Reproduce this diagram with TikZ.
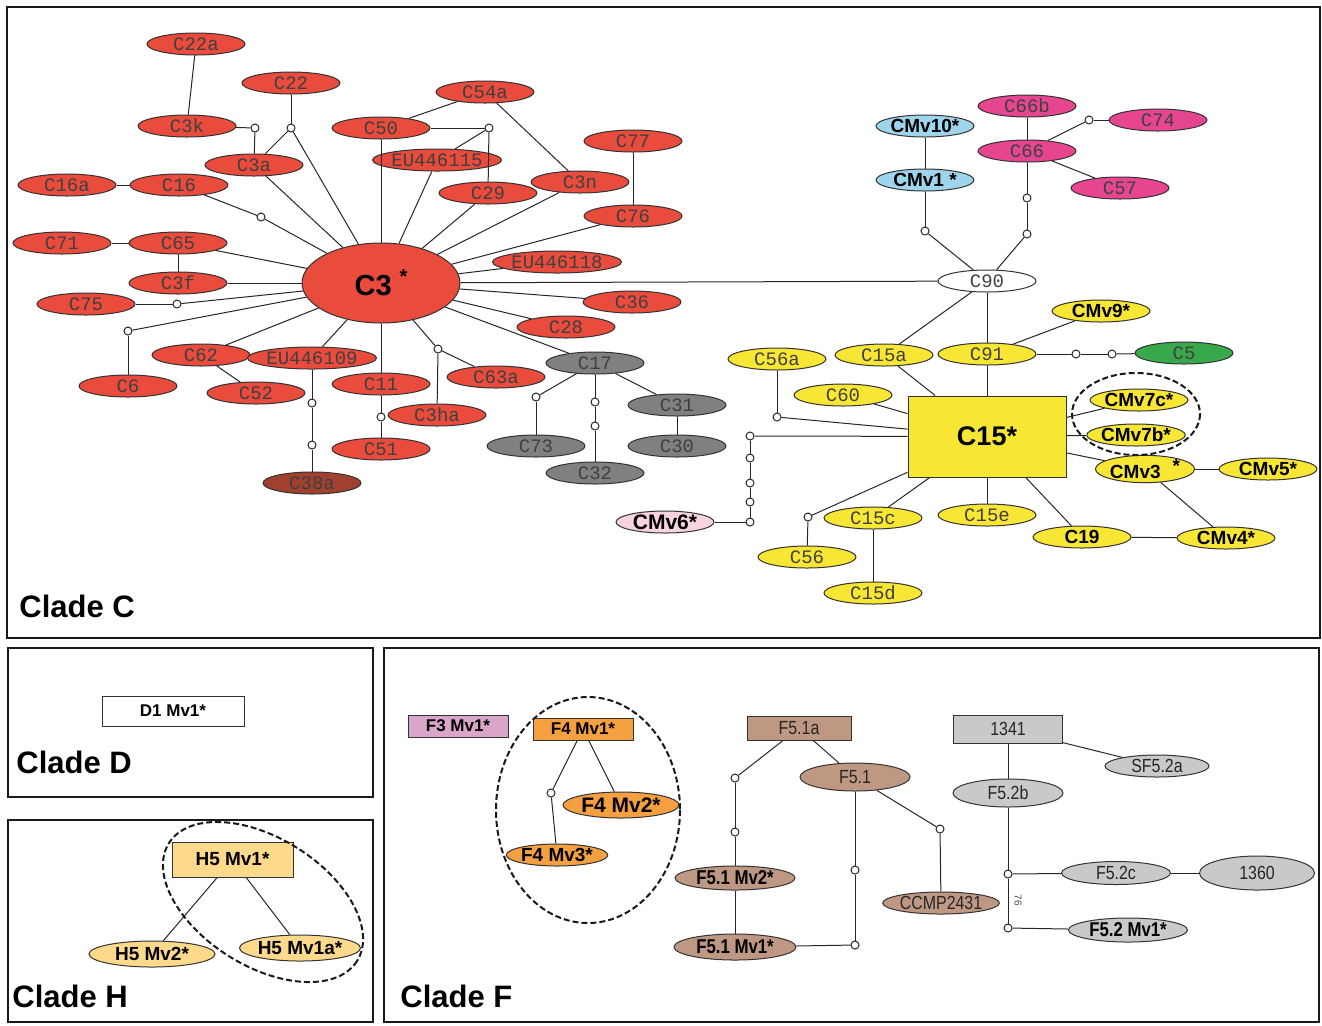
\documentclass[tikz,border=0pt]{standalone}
\usepackage{fontspec}
\setsansfont{Liberation Sans}
\setmonofont{Liberation Mono}
\newfontfamily\narrowsans[FakeStretch=0.84]{Liberation Sans}
\usetikzlibrary{shapes.geometric}

\definecolor{redC}{HTML}{E94B3C}
\definecolor{darkredC}{HTML}{A2402F}
\definecolor{grayC}{HTML}{808080}
\definecolor{blueC}{HTML}{9FD5EC}
\definecolor{pinkC}{HTML}{E6468F}
\definecolor{yellowC}{HTML}{F8E635}
\definecolor{greenC}{HTML}{38A94A}
\definecolor{paleC}{HTML}{F8D3E2}
\definecolor{mauveF}{HTML}{D9A6CA}
\definecolor{orangeF}{HTML}{F4A041}
\definecolor{brownF}{HTML}{BF9883}
\definecolor{grayF}{HTML}{C9C9C9}
\definecolor{sandH}{HTML}{FDDA8B}

\begin{document}
\begin{tikzpicture}[x=0.5pt,y=-0.5pt]
\tikzset{
  hap/.style={ellipse,draw=black!80,line width=0.5pt,inner sep=0pt,minimum width=49pt,minimum height=11pt,text=black!75,font=\ttfamily\fontsize{9.5}{10}\selectfont},
  mvhap/.style={hap,text=black,font=\sffamily\bfseries\fontsize{9.5}{10}\selectfont},
  fhap/.style={ellipse,draw=black!80,line width=0.5pt,inner sep=0pt,text=black!85,font=\narrowsans\fontsize{9.5}{10}\selectfont},
  fmv/.style={fhap,text=black,font=\narrowsans\bfseries\fontsize{10}{10}\selectfont},
  hbox/.style={rectangle,draw=black!80,line width=0.5pt,inner sep=0pt},
  joint/.style={circle,draw=black!85,fill=white,line width=0.5pt,inner sep=0pt,minimum size=4pt},
  link/.style={draw=black!85,line width=0.5pt},
  panel/.style={draw=black!90,line width=1pt},
  group/.style={draw=black!90,line width=1pt,dash pattern=on 3pt off 1.5pt},
  cladelabel/.style={anchor=west,inner sep=0pt,font=\sffamily\bfseries\fontsize{15.5}{16}\selectfont}
}
\useasboundingbox (0,0) rectangle (1322,1025);

% panels
\draw[panel] (7,7) rectangle (1320,638);
\draw[panel] (8,648) rectangle (373,797);
\draw[panel] (8,820) rectangle (373,1022);
\draw[panel] (384,648) rectangle (1319,1022);
\node[cladelabel] (l_c) at (19,606) {Clade C};
\node[cladelabel] (l_d) at (16,762) {Clade D};
\node[cladelabel] (l_h) at (12,996) {Clade H};
\node[cladelabel] (l_f) at (400,996) {Clade F};

% clade C, C3 group
\node[hap,fill=redC] (n_c3) at (381,283) [minimum width=79pt,minimum height=40pt,text=black,font=\sffamily\bfseries\fontsize{14.5}{15}\selectfont] {C3\hspace{4pt}\raisebox{6pt}{\fontsize{10}{10}\selectfont *}};
\node[hap,fill=redC] (n_c22a) at (196,44) {C22a};
\node[hap,fill=redC] (n_c22) at (291,83) {C22};
\node[hap,fill=redC] (n_c3k) at (187,126) {C3k};
\node[hap,fill=redC] (n_c3a) at (254,165) {C3a};
\node[hap,fill=redC] (n_c16a) at (67,185) {C16a};
\node[hap,fill=redC] (n_c16) at (179,185) {C16};
\node[hap,fill=redC] (n_c50) at (381,128) {C50};
\node[hap,fill=redC] (n_c54a) at (485,92) {C54a};
\node[hap,fill=redC] (n_eu115) at (437,160) {EU446115};
\node[hap,fill=redC] (n_c29) at (488,193) {C29};
\node[hap,fill=redC] (n_c3n) at (580,182) {C3n};
\node[hap,fill=redC] (n_c77) at (633,141) {C77};
\node[hap,fill=redC] (n_c76) at (633,216) {C76};
\node[hap,fill=redC] (n_eu118) at (557,262) {EU446118};
\node[hap,fill=redC] (n_c71) at (62,243) {C71};
\node[hap,fill=redC] (n_c65) at (178,243) {C65};
\node[hap,fill=redC] (n_c3f) at (178,283) {C3f};
\node[hap,fill=redC] (n_c75) at (86,304) {C75};
\node[hap,fill=redC] (n_c36) at (632,302) {C36};
\node[hap,fill=redC] (n_c28) at (566,327) {C28};
\node[hap,fill=redC] (n_c62) at (201,355) {C62};
\node[hap,fill=redC] (n_c6) at (128,386) {C6};
\node[hap,fill=redC] (n_c52) at (256,393) {C52};
\node[hap,fill=redC] (n_eu109) at (312,358) {EU446109};
\node[hap,fill=redC] (n_c11) at (381,384) {C11};
\node[hap,fill=redC] (n_c51) at (381,449) {C51};
\node[hap,fill=redC] (n_c3ha) at (437,415) {C3ha};
\node[hap,fill=redC] (n_c63a) at (496,377) {C63a};
\node[hap,fill=darkredC] (n_c38a) at (312,483) {C38a};
\node[hap,fill=grayC] (n_c17) at (595,363) {C17};
\node[hap,fill=grayC] (n_c73) at (536,446) {C73};
\node[hap,fill=grayC] (n_c32) at (595,473) {C32};
\node[hap,fill=grayC] (n_c31) at (677,405) {C31};
\node[hap,fill=grayC] (n_c30) at (677,446) {C30};
\node[joint] (n_j1) at (255,128) {};
\node[joint] (n_j2) at (291,128) {};
\node[joint] (n_j3) at (261,217) {};
\node[joint] (n_j4) at (489,128) {};
\node[joint] (n_j5) at (177,304) {};
\node[joint] (n_j6) at (128,331) {};
\node[joint] (n_j7) at (312,403) {};
\node[joint] (n_j8) at (312,445) {};
\node[joint] (n_j9) at (381,417) {};
\node[joint] (n_j10) at (438,349) {};
\node[joint] (n_j11) at (536,397) {};
\node[joint] (n_j12) at (595,402) {};
\node[joint] (n_j13) at (595,426) {};

% clade C, C15 group
\node[hap,fill=white] (n_c90) at (987,281) {C90};
\node[mvhap,fill=blueC] (n_cmv10) at (925,126) {CMv10*};
\node[mvhap,fill=blueC] (n_cmv1) at (925,180) {CMv1 *};
\node[hap,fill=pinkC] (n_c66b) at (1027,106) {C66b};
\node[hap,fill=pinkC] (n_c66) at (1027,151) {C66};
\node[hap,fill=pinkC] (n_c74) at (1158,120) {C74};
\node[hap,fill=pinkC] (n_c57) at (1120,188) {C57};
\node[mvhap,fill=yellowC] (n_cmv9) at (1101,311) {CMv9*};
\node[hap,fill=yellowC] (n_c15a) at (884,355) {C15a};
\node[hap,fill=yellowC] (n_c91) at (987,354) {C91};
\node[hap,fill=greenC] (n_c5) at (1184,353) {C5};
\node[hap,fill=yellowC] (n_c56a) at (777,359) {C56a};
\node[hap,fill=yellowC] (n_c60) at (843,395) {C60};
\node[hbox,fill=yellowC,minimum width=79pt,minimum height=40.5pt,font=\sffamily\bfseries\fontsize{13.5}{14}\selectfont] (n_c15) at (987,436.5) {C15*};
\node[mvhap,fill=yellowC] (n_cmv7c) at (1139,400) {CMv7c*};
\node[mvhap,fill=yellowC] (n_cmv7b) at (1136,435) {CMv7b*};
\node[mvhap,fill=yellowC] (n_cmv3) at (1145,469) {CMv3\hspace{6pt}\raisebox{3pt}{*}};
\node[mvhap,fill=yellowC] (n_cmv5) at (1268,469) {CMv5*};
\node[mvhap,fill=yellowC] (n_c19) at (1082,537) {C19};
\node[mvhap,fill=yellowC] (n_cmv4) at (1226,538) {CMv4*};
\node[hap,fill=yellowC] (n_c15e) at (987,515) {C15e};
\node[hap,fill=yellowC] (n_c15c) at (873,518) {C15c};
\node[hap,fill=yellowC] (n_c15d) at (873,593) {C15d};
\node[hap,fill=yellowC] (n_c56) at (807,557) {C56};
\node[mvhap,fill=paleC,font=\sffamily\bfseries\fontsize{10.5}{11}\selectfont] (n_cmv6) at (665,522) {CMv6*};
\node[joint] (n_j14) at (925,231) {};
\node[joint] (n_j15) at (1027,234) {};
\node[joint] (n_j16) at (1027,198) {};
\node[joint] (n_j17) at (1089,120) {};
\node[joint] (n_j18) at (1076,354) {};
\node[joint] (n_j19) at (1112,354) {};
\node[joint] (n_j20) at (777,417) {};
\node[joint] (n_j21) at (750,436) {};
\node[joint] (n_j22) at (750,458) {};
\node[joint] (n_j23) at (750,483) {};
\node[joint] (n_j24) at (750,502) {};
\node[joint] (n_j25) at (750,522) {};
\node[joint] (n_j26) at (808,517) {};
\draw[group] (1136,414) ellipse [x radius=64,y radius=41];

\draw[link] (n_c22a) -- (n_c3k);
\draw[link] (n_c3k) -- (n_j1);
\draw[link] (n_j1) -- (n_c3a);
\draw[link] (n_c22) -- (n_j2);
\draw[link] (n_j2) -- (n_c3a);
\draw[link] (n_j2) -- (n_c3);
\draw[link] (n_c16a) -- (n_c16);
\draw[link] (n_c16) -- (n_j3);
\draw[link] (n_j3) -- (n_c3);
\draw[link] (n_c3a) -- (n_c3);
\draw[link] (n_c50) -- (n_c3);
\draw[link] (n_c50) -- (n_c54a);
\draw[link] (n_c50) -- (n_j4);
\draw[link] (n_j4) -- (n_eu115);
\draw[link] (n_j4) -- (n_c29);
\draw[link] (n_eu115) -- (n_c3);
\draw[link] (n_c29) -- (n_c3);
\draw[link] (n_c54a) -- (n_c3n);
\draw[link] (n_c3n) -- (n_c3);
\draw[link] (n_c77) -- (n_c76);
\draw[link] (n_c76) -- (n_c3);
\draw[link] (n_eu118) -- (n_c3);
\draw[link] (n_c71) -- (n_c65);
\draw[link] (n_c65) -- (n_c3f);
\draw[link] (n_c65) -- (n_c3);
\draw[link] (n_c3f) -- (n_c3);
\draw[link] (n_c75) -- (n_j5);
\draw[link] (n_j5) -- (n_c3);
\draw[link] (n_c6) -- (n_j6);
\draw[link] (n_j6) -- (n_c3);
\draw[link] (n_c62) -- (n_c3);
\draw[link] (n_c62) -- (n_c52);
\draw[link] (n_eu109) -- (n_c3);
\draw[link] (n_eu109) -- (n_j7);
\draw[link] (n_j7) -- (n_j8);
\draw[link] (n_j8) -- (n_c38a);
\draw[link] (n_c11) -- (n_c3);
\draw[link] (n_c11) -- (n_j9);
\draw[link] (n_j9) -- (n_c51);
\draw[link] (n_c3) -- (n_j10);
\draw[link] (n_j10) -- (n_c3ha);
\draw[link] (n_j10) -- (n_c63a);
\draw[link] (n_c3) -- (n_c36);
\draw[link] (n_c3) -- (n_c28);
\draw[link] (n_c3) -- (n_c17);
\draw[link] (n_c17) -- (n_j11);
\draw[link] (n_j11) -- (n_c73);
\draw[link] (n_c17) -- (n_j12);
\draw[link] (n_j12) -- (n_j13);
\draw[link] (n_j13) -- (n_c32);
\draw[link] (n_c17) -- (n_c31);
\draw[link] (n_c31) -- (n_c30);
\draw[link] (n_c3) -- (n_c90);
\draw[link] (n_c90) -- (n_j14);
\draw[link] (n_j14) -- (n_cmv1);
\draw[link] (n_cmv1) -- (n_cmv10);
\draw[link] (n_c90) -- (n_j15);
\draw[link] (n_j15) -- (n_j16);
\draw[link] (n_j16) -- (n_c66);
\draw[link] (n_c66) -- (n_c66b);
\draw[link] (n_c66) -- (n_j17);
\draw[link] (n_j17) -- (n_c74);
\draw[link] (n_c66) -- (n_c57);
\draw[link] (n_c90) -- (n_c15a);
\draw[link] (n_c90) -- (n_c91);
\draw[link] (n_c91) -- (n_cmv9);
\draw[link] (n_c91) -- (n_j18);
\draw[link] (n_j18) -- (n_j19);
\draw[link] (n_j19) -- (n_c5);
\draw[link] (n_c15a) -- (n_c15);
\draw[link] (n_c91) -- (n_c15);
\draw[link] (n_c60) -- (n_c15);
\draw[link] (n_c56a) -- (n_j20);
\draw[link] (n_j20) -- (n_c15);
\draw[link] (n_c15) -- (n_j21);
\draw[link] (n_j21) -- (n_j22);
\draw[link] (n_j22) -- (n_j23);
\draw[link] (n_j23) -- (n_j24);
\draw[link] (n_j24) -- (n_j25);
\draw[link] (n_j25) -- (n_cmv6);
\draw[link] (n_c15) -- (n_j26);
\draw[link] (n_j26) -- (n_c56);
\draw[link] (n_c15) -- (n_c15c);
\draw[link] (n_c15c) -- (n_c15d);
\draw[link] (n_c15) -- (n_c15e);
\draw[link] (n_c15) -- (n_c19);
\draw[link] (n_c19) -- (n_cmv4);
\draw[link] (n_c15) -- (n_cmv7c);
\draw[link] (n_c15) -- (n_cmv7b);
\draw[link] (n_c15) -- (n_cmv3);
\draw[link] (n_cmv3) -- (n_cmv5);
\draw[link] (n_cmv3) -- (n_cmv4);

% clade D
\node[hbox,fill=white,minimum width=71pt,minimum height=15pt,font=\sffamily\bfseries\fontsize{8.5}{9}\selectfont] (n_d1mv1) at (173,711) {D1 Mv1*};

% clade H
\node[hbox,fill=sandH,minimum width=60.5pt,minimum height=17.5pt,font=\sffamily\bfseries\fontsize{9.5}{10}\selectfont] (n_h5mv1) at (232.5,859.5) {H5 Mv1*};
\node[fmv,fill=sandH,minimum width=63pt,minimum height=13pt,font=\sffamily\bfseries\fontsize{9.5}{10}\selectfont] (n_h5mv2) at (152,954) {H5 Mv2*};
\node[fmv,fill=sandH,minimum width=60.5pt,minimum height=13pt,font=\sffamily\bfseries\fontsize{9.5}{10}\selectfont] (n_h5mv1a) at (300,948) {H5 Mv1a*};
\draw[link] (n_h5mv1) -- (n_h5mv2);
\draw[link] (n_h5mv1) -- (n_h5mv1a);
\draw[group] (263,902) ellipse [x radius=111,y radius=64,rotate=-32];

% clade F
\node[hbox,fill=mauveF,minimum width=50pt,minimum height=11pt,font=\sffamily\bfseries\fontsize{8.5}{9}\selectfont] (n_f3mv1) at (458,726) {F3 Mv1*};
\node[hbox,fill=orangeF,minimum width=50pt,minimum height=11pt,font=\sffamily\bfseries\fontsize{8.5}{9}\selectfont] (n_f4mv1) at (583,729) {F4 Mv1*};
\node[fmv,fill=orangeF,minimum width=58pt,minimum height=13pt,font=\sffamily\bfseries\fontsize{10.5}{11}\selectfont] (n_f4mv2) at (621,805) {F4 Mv2*};
\node[fmv,fill=orangeF,minimum width=50pt,minimum height=11pt,font=\sffamily\bfseries\fontsize{9.5}{10}\selectfont] (n_f4mv3) at (557,855) {F4 Mv3*};
\node[joint] (n_j27) at (551,793) {};
\draw[group] (588,810) ellipse [x radius=92,y radius=113];
\node[hbox,fill=brownF,minimum width=52pt,minimum height=12pt,text=black!85,font=\narrowsans\fontsize{9.5}{10}\selectfont] (n_f51a) at (799,728) {F5.1a};
\node[fhap,fill=brownF,minimum width=55pt,minimum height=14pt] (n_f51) at (855,777) {F5.1};
\node[fmv,fill=brownF,minimum width=60pt,minimum height=12pt] (n_f51mv2) at (735,878) {F5.1 Mv2*};
\node[fmv,fill=brownF,minimum width=61pt,minimum height=13pt] (n_f51mv1) at (735,947) {F5.1 Mv1*};
\node[fhap,fill=brownF,minimum width=52pt,minimum height=11pt] (n_ccmp) at (941,903) {CCMP2431};
\node[joint] (n_j28) at (735,778) {};
\node[joint] (n_j29) at (735,832) {};
\node[joint] (n_j30) at (855,945) {};
\node[joint] (n_j31) at (855,870) {};
\node[joint] (n_j32) at (940,829) {};
\node[hbox,fill=grayF,minimum width=54.5pt,minimum height=14pt,text=black!85,font=\narrowsans\fontsize{9.5}{10}\selectfont] (n_1341) at (1008,729) {1341};
\node[fhap,fill=grayF,minimum width=52pt,minimum height=11pt] (n_sf52a) at (1157,766) {SF5.2a};
\node[fhap,fill=grayF,minimum width=55pt,minimum height=14pt] (n_f52b) at (1008,793) {F5.2b};
\node[fhap,fill=grayF,minimum width=54.5pt,minimum height=11.5pt] (n_f52c) at (1116,873) {F5.2c};
\node[fhap,fill=grayF,minimum width=57.5pt,minimum height=17pt] (n_1360) at (1257,873) {1360};
\node[fmv,fill=grayF,minimum width=59.5pt,minimum height=12pt] (n_f52mv1) at (1128,930) {F5.2 Mv1*};
\node[joint] (n_j33) at (1008,874) {};
\node[joint] (n_j34) at (1008,928) {};
\node[rotate=-90,text=black!70,inner sep=0pt,font=\sffamily\fontsize{5}{5}\selectfont] (l_76) at (1018,900) {76};

\draw[link] (n_f4mv1) -- (n_j27);
\draw[link] (n_j27) -- (n_f4mv3);
\draw[link] (n_f4mv1) -- (n_f4mv2);
\draw[link] (n_f51a) -- (n_j28);
\draw[link] (n_j28) -- (n_j29);
\draw[link] (n_j29) -- (n_f51mv2);
\draw[link] (n_f51mv2) -- (n_f51mv1);
\draw[link] (n_f51mv1) -- (n_j30);
\draw[link] (n_j30) -- (n_j31);
\draw[link] (n_j31) -- (n_f51);
\draw[link] (n_f51a) -- (n_f51);
\draw[link] (n_f51) -- (n_j32);
\draw[link] (n_j32) -- (n_ccmp);
\draw[link] (n_1341) -- (n_f52b);
\draw[link] (n_1341) -- (n_sf52a);
\draw[link] (n_f52b) -- (n_j33);
\draw[link] (n_j33) -- (n_j34);
\draw[link] (n_j34) -- (n_f52mv1);
\draw[link] (n_j33) -- (n_f52c);
\draw[link] (n_f52c) -- (n_1360);
\end{tikzpicture}
\end{document}
